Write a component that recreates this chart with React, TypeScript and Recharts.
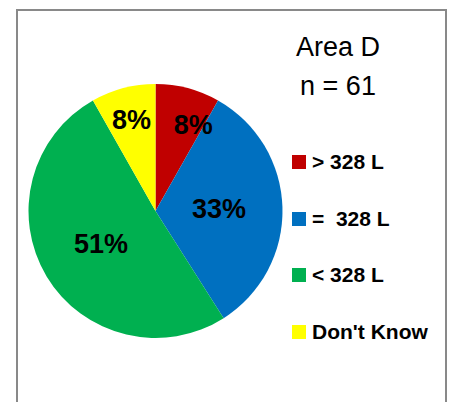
import React from 'react'
import { Cell, Legend, Pie, PieChart } from 'recharts'

const categories = ['> 328 L', '=  328 L', '< 328 L', "Don't Know"]
const counts = [5, 20, 31, 5]
const colors = ['#C00000', '#0070C0', '#00B050', '#FFFF00']
const titleLines = ['Area D', 'n = 61']

const data = categories.map((name, i) => ({ name, value: counts[i] }))

const RADIAN = Math.PI / 180

const renderLabel = (props: any) => {
  const { cx, cy, midAngle, outerRadius, percent, index } = props
  // small slices sit further out, the red one is pushed towards blue like in Excel
  const r = outerRadius * (percent < 0.1 ? 0.74 : 0.5)
  const angle = midAngle - (index === 0 ? 9 : 0)
  const x = cx + r * Math.cos(-angle * RADIAN)
  const y = cy + r * Math.sin(-angle * RADIAN)
  return (
    <text
      x={x}
      y={y}
      fill="#000"
      textAnchor="middle"
      dominantBaseline="central"
      fontFamily="Liberation Sans"
      fontWeight="bold"
      fontSize={27}
    >
      {`${Math.round(percent * 100)}%`}
    </text>
  )
}

// keep the data order, the default legend sorts by name
const renderLegend = () => (
  <div>
    {categories.map((name, i) => (
      <div key={name} style={{ display: 'flex', alignItems: 'center', height: 56.5 }}>
        <span style={{ width: 14, height: 14, background: colors[i], marginRight: 6 }} />
        <span
          style={{
            fontFamily: 'Liberation Sans',
            fontWeight: 'bold',
            fontSize: 21,
            color: '#000',
            whiteSpace: 'pre',
          }}
        >
          {name}
        </span>
      </div>
    ))}
  </div>
)

export default function App() {
  return (
    <div style={{ position: 'absolute', left: 0, top: 0, width: 459, height: 402, background: '#fff', overflow: 'hidden' }}>
      <div
        style={{
          position: 'absolute',
          left: 16,
          top: 9,
          width: 427,
          height: 420,
          border: '2px solid #898989',
        }}
      />
      <div
        style={{
          position: 'absolute',
          left: 258,
          top: 28,
          width: 160,
          textAlign: 'center',
          fontFamily: 'Liberation Sans',
          fontSize: 27,
          lineHeight: '39px',
          color: '#000',
        }}
      >
        {titleLines.map((t) => (
          <div key={t}>{t}</div>
        ))}
      </div>
      <PieChart
        width={459}
        height={402}
        margin={{ top: 0, right: 0, bottom: 0, left: 0 }}
        style={{ position: 'absolute', left: 0, top: 0 }}
      >
        <Pie
          data={data}
          dataKey="value"
          nameKey="name"
          cx={155.5}
          cy={211}
          outerRadius={127}
          startAngle={90}
          endAngle={-270}
          stroke="none"
          label={renderLabel}
          labelLine={false}
          isAnimationActive={false}
        >
          {data.map((d, i) => (
            <Cell key={d.name} fill={colors[i]} />
          ))}
        </Pie>
        <Legend
          layout="vertical"
          content={renderLegend}
          wrapperStyle={{ position: 'absolute', left: 292, top: 134, width: 160 }}
        />
      </PieChart>
    </div>
  )
}
